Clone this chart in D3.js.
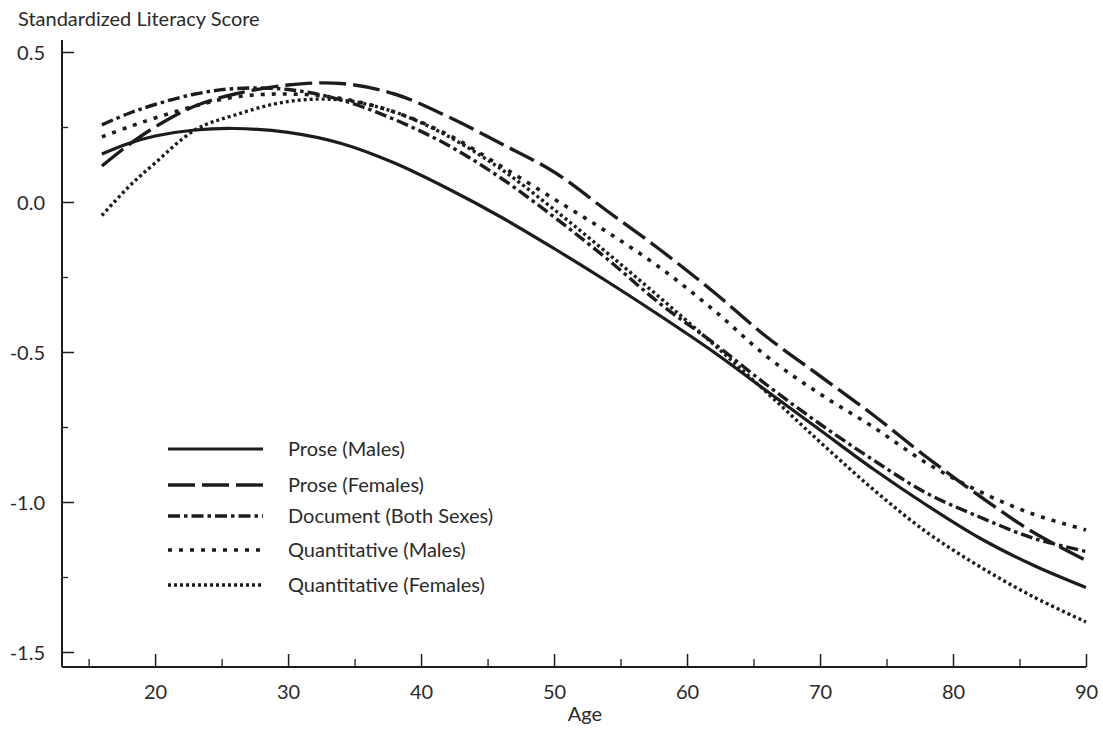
<!DOCTYPE html>
<html><head><meta charset="utf-8">
<script src="https://cdn.jsdelivr.net/npm/d3@7"></script>
<style>
body{margin:0;background:#fff}
text{font-family:Lato, "Open Sans", sans-serif; fill:#2a2a2a}
</style>
</head><body>
<svg id="chart" width="1103" height="749"></svg>
<script>
// ---- data ----
const ages = [16, 18, 20, 23, 26, 30, 34, 38, 42, 46, 50, 54, 58, 62, 66, 70, 74, 78, 82, 86, 90];
const proseMales = [0.16, 0.195, 0.22, 0.24, 0.245, 0.232, 0.195, 0.13, 0.045, -0.05, -0.155, -0.265, -0.38, -0.50, -0.63, -0.76, -0.89, -1.01, -1.12, -1.21, -1.285];
const proseFemales = [0.12, 0.19, 0.25, 0.32, 0.36, 0.39, 0.395, 0.36, 0.285, 0.195, 0.10, -0.03, -0.16, -0.30, -0.45, -0.58, -0.71, -0.85, -0.98, -1.10, -1.195];
const documentBoth = [0.257, 0.295, 0.325, 0.36, 0.378, 0.375, 0.34, 0.275, 0.19, 0.08, -0.05, -0.19, -0.34, -0.47, -0.61, -0.74, -0.86, -0.97, -1.05, -1.12, -1.165];
const quantMales = [0.217, 0.25, 0.28, 0.32, 0.35, 0.36, 0.345, 0.30, 0.225, 0.12, 0.01, -0.10, -0.22, -0.36, -0.515, -0.64, -0.75, -0.87, -0.965, -1.04, -1.093];
const quantFemales = [-0.045, 0.05, 0.13, 0.24, 0.29, 0.335, 0.34, 0.30, 0.22, 0.11, -0.025, -0.17, -0.32, -0.475, -0.635, -0.80, -0.958, -1.10, -1.215, -1.315, -1.40];
const seriesNames = ["Prose (Males)", "Prose (Females)", "Document (Both Sexes)", "Quantitative (Males)", "Quantitative (Females)"];
const xMajorTicks = [20, 30, 40, 50, 60, 70, 80, 90];
const xMinorTicks = [15, 25, 35, 45, 55, 65, 75, 85];
const yMajorTicks = [0.5, 0.0, -0.5, -1.0, -1.5];
const yTickLabels = ["0.5", "0.0", "-0.5", "-1.0", "-1.5"];
const yMinorTicks = [0.25, -0.25, -0.75, -1.25];
const yTitle = "Standardized Literacy Score";
const xTitle = "Age";

// ---- styles ----
const ink = "#1c1c1c";
const fontSize = "20px";
const styles = [
  {dash: null, width: 3.2},
  {dash: "27,7", width: 3.4},
  {dash: "12,4,3.5,4", width: 3.4},
  {dash: "4,7", width: 3.6},
  {dash: "3,3", width: 3.4}
];

const svg = d3.select("#chart");
const x = d3.scaleLinear().domain([13, 90]).range([62, 1086]);
const y = d3.scaleLinear().domain([0.5, -1.5]).range([52, 652]);
const axisY = 667;

// axes lines
svg.append("line").attr("x1", x(13)).attr("x2", x(13)).attr("y1", y(0.54)).attr("y2", axisY)
  .attr("stroke", ink).attr("stroke-width", 2);
svg.append("line").attr("x1", x(13)).attr("x2", x(90)).attr("y1", axisY).attr("y2", axisY)
  .attr("stroke", ink).attr("stroke-width", 2);

// x axis
const gx = svg.append("g").attr("transform", `translate(0,${axisY})`)
  .call(d3.axisBottom(x).tickValues(xMajorTicks).tickSize(-13).tickSizeOuter(0).tickPadding(18).tickFormat(d3.format("d")));
gx.select(".domain").remove();
gx.selectAll(".tick line").attr("stroke", ink).attr("stroke-width", 1.5);
gx.selectAll(".tick text").style("font-size", fontSize).attr("fill", "#2a2a2a");
const gxm = svg.append("g").attr("transform", `translate(0,${axisY})`)
  .call(d3.axisBottom(x).tickValues(xMinorTicks).tickSize(-8).tickSizeOuter(0).tickFormat(""));
gxm.select(".domain").remove();
gxm.selectAll(".tick line").attr("stroke", ink).attr("stroke-width", 1.3);

// y axis
const gy = svg.append("g").attr("transform", `translate(${x(13)},0)`)
  .call(d3.axisLeft(y).tickValues(yMajorTicks).tickSize(-12).tickSizeOuter(0).tickPadding(17)
    .tickFormat((d, i) => yTickLabels[i]));
gy.select(".domain").remove();
gy.selectAll(".tick line").attr("stroke", ink).attr("stroke-width", 1.5);
gy.selectAll(".tick text").style("font-size", fontSize).attr("dy", "0.36em").attr("fill", "#2a2a2a");
const gym = svg.append("g").attr("transform", `translate(${x(13)},0)`)
  .call(d3.axisLeft(y).tickValues(yMinorTicks).tickSize(-6).tickSizeOuter(0).tickFormat(""));
gym.select(".domain").remove();
gym.selectAll(".tick line").attr("stroke", ink).attr("stroke-width", 1.3);

// titles
svg.append("text").attr("x", 18).attr("y", 26).style("font-size", fontSize).text(yTitle);
svg.append("text").attr("x", 585).attr("y", 721).attr("text-anchor", "middle").style("font-size", fontSize).text(xTitle);

// series
const allSeries = [proseMales, proseFemales, documentBoth, quantMales, quantFemales];
const line = d3.line().x(d => x(d[0])).y(d => y(d[1])).curve(d3.curveCatmullRom.alpha(0.5));
allSeries.forEach((vals, i) => {
  const pts = ages.map((a, j) => [a, vals[j]]);
  svg.append("path").datum(pts).attr("d", line)
    .attr("fill", "none").attr("stroke", ink)
    .attr("stroke-width", styles[i].width)
    .attr("stroke-dasharray", styles[i].dash)
    .attr("stroke-linecap", "butt");
});

// legend
const legendRows = [449, 485, 516, 550, 585];
seriesNames.forEach((name, i) => {
  const ly = legendRows[i];
  svg.append("line").attr("x1", 168).attr("x2", 263).attr("y1", ly).attr("y2", ly)
    .attr("stroke", ink).attr("stroke-width", styles[i].width)
    .attr("stroke-dasharray", styles[i].dash);
  svg.append("text").attr("x", 288).attr("y", ly + 7).style("font-size", fontSize).text(name);
});
</script>
</body></html>
